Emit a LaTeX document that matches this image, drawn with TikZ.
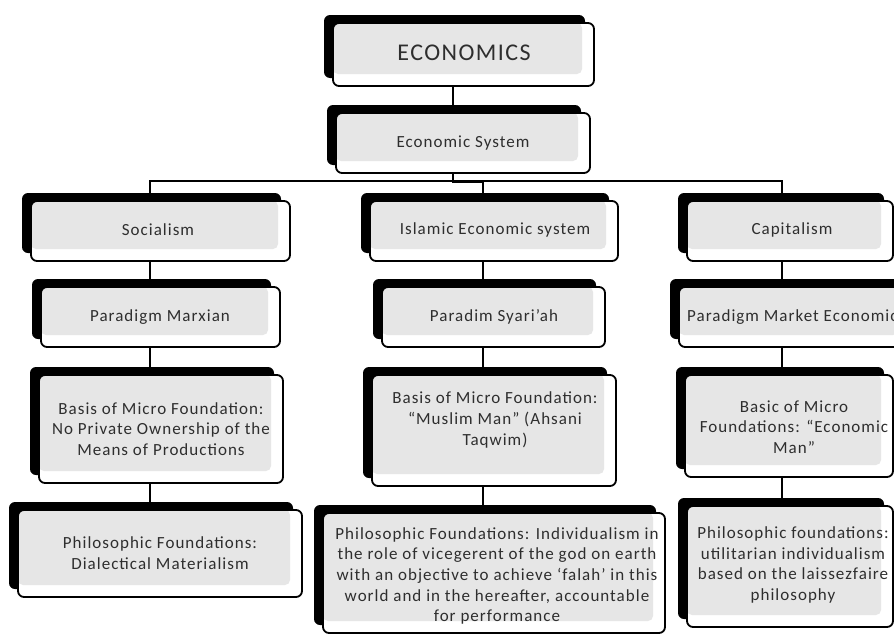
\documentclass[tikz,border=0pt]{standalone}
\usepackage{fontspec}
\setmainfont[LetterSpace=6]{Carlito}
\usetikzlibrary{shadows}
\definecolor{panelgray}{HTML}{E6E6E6}
\definecolor{inkgray}{HTML}{2E2E2E}
\tikzset{
  frame/.style={draw=black, line width=1.8pt, fill=white, rounded corners=6pt,
    inner sep=0pt, outer sep=0pt,
    general shadow={shadow xshift=-9pt, shadow yshift=8pt, fill=black},
    path picture={
      \fill[panelgray, rounded corners=5pt]
        (path picture bounding box.north west) rectangle
        ([xshift=-12pt,yshift=12pt]path picture bounding box.south east);
    }},
  label/.style={text=inkgray, align=center, inner sep=0pt,
    font=\fontsize{17}{20.6}\selectfont},
  biglabel/.style={label, font=\fontsize{24}{28}\selectfont},
  link/.style={draw=black, line width=1.8pt}
}
\begin{document}
\begin{tikzpicture}[x=1pt, y=-1pt]
\useasboundingbox (0,0) rectangle (894,637);

% frames of the boxes (centre, width, height)
\node[frame, minimum width=261pt, minimum height=63pt] (econ) at (463.5,54.5) {};
\node[frame, minimum width=254pt, minimum height=60pt] (es) at (463,143) {};

\node[frame, minimum width=259pt, minimum height=60pt] (soc) at (160.5,231) {};
\node[frame, minimum width=248pt, minimum height=60pt] (isl) at (494,231) {};
\node[frame, minimum width=206pt, minimum height=60pt] (cap) at (790,231) {};

\node[frame, minimum width=239pt, minimum height=60pt] (marx) at (160.5,317) {};
\node[frame, minimum width=223pt, minimum height=60pt] (syar) at (493.5,317) {};
\node[frame, minimum width=231pt, minimum height=60pt] (mkt) at (794.5,317) {};

\node[frame, minimum width=244pt, minimum height=108pt] (sbas) at (161,429) {};
\node[frame, minimum width=244pt, minimum height=111pt] (ibas) at (494,430.5) {};
\node[frame, minimum width=208pt, minimum height=102pt] (cbas) at (789,426) {};

\node[frame, minimum width=284pt, minimum height=87pt] (sphil) at (160,553.5) {};
\node[frame, minimum width=342pt, minimum height=120pt] (iphil) at (494,573) {};
\node[frame, minimum width=206pt, minimum height=121pt] (cphil) at (790,566.5) {};

% texts
\node[biglabel] (tEcon) at (464,53) {ECONOMICS};
\node[label] (tEs) at (463,143) {Economic System};
\node[label] (tSoc) at (158,230) {Socialism};
\node[label] (tIsl) at (495,230) {Islamic Economic system};
\node[label] (tCap) at (792,230) {Capitalism};
\node[label] (tMarx) at (160,317) {Paradigm Marxian};
\node[label] (tSyar) at (494,317) {Paradim Syari’ah};
\node[label, anchor=west] (tMkt) at (687,317) {Paradigm Market Economic};
\node[label] (tSbas) at (161,429) {Basis of Micro Foundation:\\No Private Ownership of the\\Means of Productions};
\node[label] (tIbas) at (495,420) {Basis of Micro Foundation:\\“Muslim Man” (Ahsani\\Taqwim)};
\node[label] (tCbas) at (794,427) {Basic of Micro\\Foundations: “Economic\\Man”};
\node[label] (tSphil) at (160,553) {Philosophic Foundations:\\Dialectical Materialism};
\node[label] (tIphil) at (497,576) {Philosophic Foundations: Individualism in\\the role of vicegerent of the god on earth\\with an objective to achieve ‘falah’ in this\\world and in the hereafter, accountable\\for performance};
\node[label] (tCphil) at (793,565) {Philosophic foundations:\\utilitarian individualism\\based on the laissezfaire\\philosophy};

% connector columns
\coordinate (colE) at (453,0);
\coordinate (jog) at (483,182);
\coordinate (busL) at (150,181);
\coordinate (busR) at (782,181);
\coordinate (colS) at (150,0);
\coordinate (colI) at (483,0);
\coordinate (colC) at (782,0);

\draw[link] (econ.south -| colE) -- (es.north -| colE);
\draw[link] (es.south -| colE) |- (jog) -- (isl.north -| jog);
\draw[link] (soc.north -| busL) -- (busL) -- (busR) -- (cap.north -| busR);

\draw[link] (soc.south -| colS) -- (marx.north -| colS);
\draw[link] (marx.south -| colS) -- (sbas.north -| colS);
\draw[link] (sbas.south -| colS) -- (sphil.north -| colS);

\draw[link] (isl.south -| colI) -- (syar.north -| colI);
\draw[link] (syar.south -| colI) -- (ibas.north -| colI);
\draw[link] (ibas.south -| colI) -- (iphil.north -| colI);

\draw[link] (cap.south -| colC) -- (mkt.north -| colC);
\draw[link] (mkt.south -| colC) -- (cbas.north -| colC);
\draw[link] (cbas.south -| colC) -- (cphil.north -| colC);
\end{tikzpicture}
\end{document}
